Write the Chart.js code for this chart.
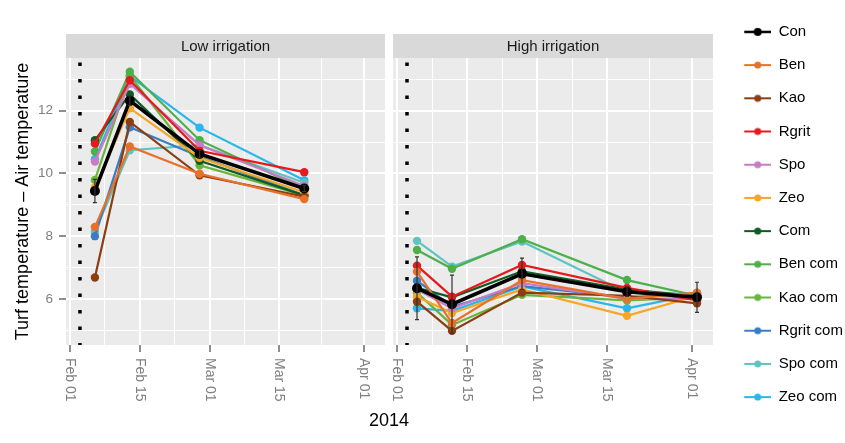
<!DOCTYPE html>
<html>
<head>
<meta charset="utf-8">
<script src="https://cdn.jsdelivr.net/npm/chart.js@4.4.1/dist/chart.umd.min.js"></script>
<style>
body { margin: 0; background: #fff; width: 845px; height: 443px; overflow: hidden; position: relative; font-family: "Liberation Sans", Arial, sans-serif; }
canvas { position: absolute; top: 0; }
#low { left: 0; }
#high { left: 388px; }
#xtitle { position: absolute; left: 389px; top: 409px; transform: translateX(-50%); font-size: 18px; line-height: 22px; color: #000; }
</style>
</head>
<body>
<canvas id="low" width="390" height="443"></canvas>
<canvas id="high" width="457" height="443"></canvas>
<div id="xtitle">2014</div>
<script>
const seriesNames = ['Con', 'Ben', 'Kao', 'Rgrit', 'Spo', 'Zeo', 'Com', 'Ben com', 'Kao com', 'Rgrit com', 'Spo com', 'Zeo com'];
const seriesColors = ['#000000', '#E8702A', '#8B3E12', '#E41A1C', '#C77CC4', '#F5A623', '#0E5B26', '#4DAF4A', '#6AB43C', '#3B7DC4', '#5EC4C0', '#29B6EA'];

// days counted from Feb 01 2014
const lowDays = [5, 12, 26, 47];
const highDays = [4, 11, 25, 46, 60];
const treatmentDay = 2;
const xTickDays = [0, 14, 28, 42, 59];
const xTickLabels = ['Feb 01', 'Feb 15', 'Mar 01', 'Mar 15', 'Apr 01'];
const xMinorDays = [7, 21, 35, 50.5];
const yTicks = [6, 8, 10, 12];
const yMinorTicks = [5, 7, 9, 11, 13];
const yMin = 4.53, yMax = 13.68;

// Low irrigation
const lowCon = [9.44, 12.32, 10.62, 9.52];
const lowBen = [8.29, 10.86, 9.99, 9.18];
const lowKao = [6.68, 11.64, 9.94, 9.26];
const lowRgrit = [10.95, 12.97, 10.72, 10.04];
const lowSpo = [10.38, 12.86, 10.9, 9.6];
const lowZeo = [9.55, 12.08, 10.5, 9.4];
const lowCom = [11.06, 12.52, 10.4, 9.3];
const lowBenCom = [10.7, 13.24, 11.06, 9.5];
const lowKaoCom = [9.79, 13.12, 10.26, 9.3];
const lowRgritCom = [8.0, 11.47, 10.54, 9.3];
const lowSpoCom = [8.15, 10.74, 10.9, 9.7];
const lowZeoCom = [10.45, 13.1, 11.46, 9.78];
const lowConErr = [0.37, 0.15, 0.12, 0.1];

// High irrigation
const highCon = [6.34, 5.83, 6.8, 6.23, 6.05];
const highBen = [6.87, 5.23, 6.6, 6.0, 6.2];
const highKao = [5.91, 4.98, 6.2, 6.1, 5.86];
const highRgrit = [7.06, 6.07, 7.08, 6.35, 5.95];
const highSpo = [6.3, 5.7, 6.5, 6.0, 6.0];
const highZeo = [6.07, 5.55, 6.3, 5.46, 6.1];
const highCom = [6.35, 6.05, 6.88, 6.3, 6.1];
const highBenCom = [7.56, 6.96, 7.9, 6.6, 6.1];
const highKaoCom = [6.2, 5.17, 6.13, 5.95, 6.05];
const highRgritCom = [6.58, 5.75, 6.41, 6.05, 6.18];
const highSpoCom = [7.85, 7.03, 7.83, 6.2, 6.1];
const highZeoCom = [5.7, 5.62, 6.4, 5.7, 6.15];
const highConErr = [1.0, 0.93, 0.5, 0.15, 0.48];

const lowValues = [lowCon, lowBen, lowKao, lowRgrit, lowSpo, lowZeo, lowCom, lowBenCom, lowKaoCom, lowRgritCom, lowSpoCom, lowZeoCom];
const highValues = [highCon, highBen, highKao, highRgrit, highSpo, highZeo, highCom, highBenCom, highKaoCom, highRgritCom, highSpoCom, highZeoCom];

const FONT = '"Liberation Sans", Arial, sans-serif';
Chart.defaults.font.family = FONT;

function makeDatasets(days, values) {
    const sets = seriesNames.map((name, i) => ({
        label: name,
        data: values[i].map((v, j) => ({ x: days[j], y: v })),
        borderColor: seriesColors[i],
        backgroundColor: seriesColors[i],
        borderWidth: i === 0 ? 3.5 : 2.2,
        pointRadius: i === 0 ? 5 : 4.2,
        pointBorderWidth: 0,
        tension: 0
    }));
    // dotted vertical line at the start of the treatment
    sets.push({
        label: 'treatment',
        data: [{ x: treatmentDay, y: yMax }, { x: treatmentDay, y: yMin }],
        borderColor: '#000',
        borderWidth: 3.5,
        borderDash: [3.5, 13],
        borderDashOffset: -4.5,
        borderCapStyle: 'butt',
        pointRadius: 0
    });
    return sets;
}

const isMajorX = c => c.tick && xTickDays.includes(c.tick.value);
const isMajorY = c => c.tick && yTicks.includes(c.tick.value);

function xScale(height) {
    return {
        type: 'linear', min: -0.8, max: 63.2,
        afterBuildTicks: s => { s.ticks = [...xTickDays, ...xMinorDays].sort((a, b) => a - b).map(v => ({ value: v })); },
        afterFit: s => { s.height = height; },
        ticks: { color: 'rgba(0,0,0,0)', autoSkip: false, maxRotation: 0, callback: () => '' },
        grid: {
            color: '#FFFFFF',
            lineWidth: c => isMajorX(c) ? 2 : 1,
            tickColor: c => isMajorX(c) ? '#444' : 'rgba(0,0,0,0)',
            tickLength: 7, tickWidth: 1.2
        },
        border: { display: false }
    };
}

function yScale(showAxis) {
    return {
        type: 'linear', min: yMin, max: yMax,
        afterBuildTicks: s => { s.ticks = [...yMinorTicks, ...yTicks].sort((a, b) => a - b).map(v => ({ value: v })); },
        afterFit: s => { s.width = showAxis ? 66 : 0; },
        ticks: {
            display: showAxis, autoSkip: false, color: '#7F7F7F', padding: 6,
            font: { size: 13.5 },
            callback: v => yTicks.includes(v) ? String(v) : ''
        },
        grid: {
            color: '#FFFFFF',
            lineWidth: c => isMajorY(c) ? 2 : 1,
            tickColor: c => isMajorY(c) ? '#444' : 'rgba(0,0,0,0)',
            drawTicks: showAxis, tickLength: 7, tickWidth: 1.2
        },
        border: { display: false },
        title: {
            display: showAxis, text: 'Turf temperature \u2013 Air temperature',
            color: '#000', font: { size: 18 }, padding: { top: 12, bottom: 0 }
        }
    };
}

const panelPlugin = {
    id: 'panel',
    beforeDraw(chart) {
        const { ctx, chartArea: a } = chart;
        ctx.save();
        ctx.fillStyle = '#EBEBEB';
        ctx.fillRect(a.left, a.top, a.right - a.left, a.bottom - a.top);
        ctx.fillStyle = '#D9D9D9';
        ctx.fillRect(a.left, a.top - 24, a.right - a.left, 24);
        ctx.restore();
    },
    afterDraw(chart) {
        // x tick labels read top to bottom
        const { ctx } = chart;
        const xs = chart.scales.x;
        ctx.save();
        ctx.fillStyle = '#7F7F7F';
        ctx.font = '14px ' + FONT;
        ctx.textAlign = 'left';
        ctx.textBaseline = 'middle';
        xTickDays.forEach((d, i) => {
            ctx.save();
            ctx.translate(xs.getPixelForValue(d), xs.top + 13);
            ctx.rotate(Math.PI / 2);
            ctx.fillText(xTickLabels[i], 0, 0);
            ctx.restore();
        });
        ctx.restore();
    }
};

const errorBarPlugin = {
    id: 'errorBars',
    afterDatasetsDraw(chart, args, opts) {
        const meta = chart.getDatasetMeta(0);
        const ys = chart.scales.y;
        const ctx = chart.ctx;
        ctx.save();
        ctx.strokeStyle = '#333';
        ctx.lineWidth = 1.2;
        opts.err.forEach((e, j) => {
            const pt = meta.data[j];
            const v = chart.data.datasets[0].data[j].y;
            const top = ys.getPixelForValue(v + e), bot = ys.getPixelForValue(v - e);
            ctx.beginPath();
            ctx.moveTo(pt.x, top); ctx.lineTo(pt.x, bot);
            ctx.moveTo(pt.x - 2, top); ctx.lineTo(pt.x + 2, top);
            ctx.moveTo(pt.x - 2, bot); ctx.lineTo(pt.x + 2, bot);
            ctx.stroke();
        });
        ctx.restore();
    }
};

// keep the legend box wide enough for the longest label
const legendWidthPlugin = {
    id: 'legendWidth',
    afterInit(chart) {
        const lg = chart.legend;
        if (!lg) return;
        const fit = lg.fit.bind(lg);
        lg.fit = function () { fit(); this.width = 130; };
    }
};

function stripTitle(text) {
    return {
        display: true, text: text, fullSize: false, color: '#1A1A1A',
        font: { size: 15, weight: 'normal' }, padding: { top: 37.5, bottom: 2.5 }
    };
}

// legend markers: short line with a dot
const legendIcons = seriesColors.map((c, i) => {
    const cv = document.createElement('canvas');
    cv.width = 40; cv.height = 12;
    const g = cv.getContext('2d');
    g.strokeStyle = c;
    g.lineWidth = i === 0 ? 2.5 : 2;
    g.beginPath(); g.moveTo(13, 6); g.lineTo(40, 6); g.stroke();
    g.fillStyle = c;
    g.beginPath(); g.arc(26.5, 6, i === 0 ? 4 : 3.5, 0, Math.PI * 2); g.fill();
    return cv;
});

new Chart(document.getElementById('low'), {
    type: 'line',
    data: { datasets: makeDatasets(lowDays, lowValues) },
    options: {
        responsive: false, animation: false, devicePixelRatio: 1,
        layout: { padding: { left: 0, right: 4, top: 0, bottom: 0 } },
        scales: { x: xScale(98), y: yScale(true) },
        plugins: {
            legend: { display: false },
            tooltip: { enabled: false },
            title: stripTitle('Low irrigation'),
            errorBars: { err: lowConErr }
        }
    },
    plugins: [panelPlugin, errorBarPlugin]
});

new Chart(document.getElementById('high'), {
    type: 'line',
    data: { datasets: makeDatasets(highDays, highValues) },
    options: {
        responsive: false, animation: false, devicePixelRatio: 1,
        layout: { padding: { left: 5, right: 2, top: 0, bottom: 14 } },
        scales: { x: xScale(84), y: yScale(false) },
        plugins: {
            legend: {
                position: 'right',
                labels: {
                    color: '#000', font: { size: 15 }, padding: 18.2,
                    usePointStyle: true, pointStyleWidth: 40,
                    generateLabels: chart => Chart.defaults.plugins.legend.labels.generateLabels(chart)
                        .filter(l => l.datasetIndex < seriesNames.length)
                        .map(l => Object.assign(l, { pointStyle: legendIcons[l.datasetIndex] }))
                }
            },
            tooltip: { enabled: false },
            title: stripTitle('High irrigation'),
            errorBars: { err: highConErr }
        }
    },
    plugins: [legendWidthPlugin, panelPlugin, errorBarPlugin]
});
</script>
</body>
</html>
